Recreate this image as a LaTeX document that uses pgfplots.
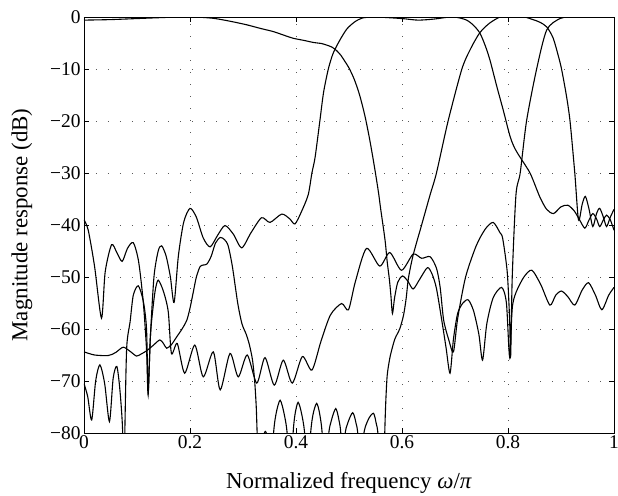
\documentclass[border=0pt]{standalone}
\usepackage{pgfplots}
\pgfplotsset{compat=1.18}
\usepackage{fontspec}
\setmainfont{Liberation Serif}
\pgfplotsset{c/.style={black, solid, mark=none, line width=1.1bp, smooth, tension=0.45}}
\begin{document}
\begin{tikzpicture}
\begin{axis}[
  width=530bp, height=416bp, scale only axis,
  xmin=0, xmax=1, ymin=-80, ymax=0,
  xtick={0,0.2,0.4,0.6,0.8,1},
  xticklabels={0,0.2,0.4,0.6,0.8,1},
  ytick={-80,-70,-60,-50,-40,-30,-20,-10,0},
  yticklabels={−80,−70,−60,−50,−40,−30,−20,−10,0},
  tick align=inside, major tick length=5bp,
  xtick pos=both, ytick pos=both,
  tick style={black, line width=0.6bp},
  axis line style={black, line width=0.8bp},
  grid=major,
  major grid style={black!65, line width=0.8bp, dash pattern=on 0.8bp off 11.2bp},
  tick label style={font=\fontsize{19.5}{22}\selectfont},
  xticklabel style={yshift=1bp},
  xlabel={Normalized frequency \textit{ω}/\textit{π}},
  ylabel={Magnitude response (dB)},
  every axis x label/.style={at={(axis description cs:0.5,-0.12)}, anchor=center, font=\fontsize{23}{26}\selectfont},
  every axis y label/.style={at={(axis description cs:-0.117,0.5)}, rotate=90, anchor=center, font=\fontsize{23}{26}\selectfont},
]
% LP
\addplot[c] coordinates {(0,-0.6) (0.05,-0.5) (0.1,-0.3) (0.15,-0.1) (0.18,0) (0.21,0) (0.244,-0.25) (0.275,-0.8) (0.307,-1.5) (0.333,-2.2) (0.357,-2.8) (0.38,-3.6) (0.395,-4.1) (0.415,-4.5) (0.433,-4.9) (0.448,-5.1) (0.458,-5.4) (0.468,-5.8) (0.477,-6.5) (0.485,-7.4) (0.492,-8.5) (0.5,-9.8) (0.51,-12) (0.52,-15) (0.53,-19) (0.538,-23) (0.545,-27) (0.551,-30.7) (0.556,-34) (0.56,-37.1) (0.568,-42.9) (0.572,-47) (0.576,-50.3) (0.579,-53.5) (0.582,-57) (0.586,-54) (0.592,-51) (0.601,-49.8) (0.611,-50.8) (0.621,-52.3) (0.633,-50.5) (0.648,-48.2) (0.657,-49.5) (0.665,-52.2) (0.675,-58.3) (0.683,-63.5) (0.6906,-68.5) (0.697,-62) (0.705,-57) (0.715,-55) (0.725,-54.4) (0.735,-56.5) (0.745,-61) (0.752,-66) (0.76,-59) (0.772,-54) (0.788,-52) (0.797,-55) (0.803,-65.3) (0.808,-56) (0.815,-53) (0.83,-50) (0.845,-48.7) (0.862,-51.5) (0.879,-55.4) (0.89,-53.5) (0.901,-52.7) (0.913,-53.8) (0.926,-55.4) (0.94,-52.5) (0.952,-51.1) (0.965,-53.5) (0.977,-56.3) (0.99,-53.5) (1,-52)};
% BP1
\addplot[c] coordinates {(0,-39) (0.008,-41) (0.02,-48) (0.033,-57.9) (0.04,-49) (0.052,-43.8) (0.062,-45.3) (0.072,-47) (0.082,-44.5) (0.093,-43.4) (0.103,-47) (0.112,-55) (0.118,-64) (0.121,-72.7) (0.125,-62) (0.132,-50) (0.14,-45) (0.1465,-44) (0.155,-46) (0.163,-50) (0.170,-54.9) (0.178,-46) (0.188,-39.5) (0.2,-36.8) (0.212,-38.5) (0.225,-42.5) (0.238,-44.2) (0.252,-42) (0.266,-40.1) (0.282,-41.8) (0.2975,-44.4) (0.315,-41.5) (0.335,-38.6) (0.351,-39.5) (0.373,-37.9) (0.388,-38.8) (0.398,-39.8) (0.41,-37.5) (0.423,-34.2) (0.43,-30) (0.436,-27) (0.445,-20) (0.452,-14.5) (0.461,-10) (0.47,-7) (0.483,-4.4) (0.496,-2.3) (0.51,-1) (0.525,-0.2) (0.55,0) (0.6,-0.3) (0.63,-0.6) (0.66,-0.4) (0.69,0) (0.705,-0.1) (0.722,-0.6) (0.735,-1.6) (0.747,-3.1) (0.757,-5.5) (0.766,-8.3) (0.779,-13.4) (0.791,-17.9) (0.804,-23) (0.813,-25.3) (0.823,-27) (0.842,-30.1) (0.86,-34.6) (0.873,-37) (0.886,-37.8) (0.9,-36.5) (0.913,-36.2) (0.925,-37.3) (0.935,-39) (0.945,-40.6) (0.953,-39) (0.96,-37.8) (0.967,-38.8) (0.973,-40.3) (0.98,-39) (0.986,-38.1) (0.993,-39) (1,-41)};
% BP2
\addplot[c] coordinates {(0,-64.4) (0.02,-65) (0.046,-65.1) (0.06,-64.5) (0.074,-63.5) (0.087,-64.3) (0.099,-65.2) (0.108,-64.8) (0.118,-64.2) (0.13,-63.2) (0.143,-62.1) (0.15,-62.8) (0.156,-63.7) (0.165,-63) (0.175,-61.5) (0.185,-60) (0.194,-58.3) (0.2,-56) (0.206,-53) (0.212,-50) (0.219,-48) (0.225,-47.7) (0.232,-47.5) (0.24,-46) (0.248,-43.5) (0.257,-42.4) (0.265,-42.8) (0.272,-44) (0.28,-48) (0.29,-55) (0.298,-59) (0.306,-61) (0.312,-63) (0.318,-66) (0.322,-70) (0.325,-75) (0.327,-81) (0.331,-92)};
\addplot[c] coordinates {(0.333,-92) (0.337,-82) (0.342,-79.7) (0.347,-82) (0.351,-95)};
\addplot[c] coordinates {(0.351,-95) (0.357,-81) (0.362,-76.5) (0.37,-73.7) (0.378,-76.5) (0.384,-81) (0.389,-95)};
\addplot[c] coordinates {(0.389,-95) (0.394,-81) (0.398,-76.5) (0.404,-74.1) (0.411,-76.5) (0.417,-81) (0.422,-95)};
\addplot[c] coordinates {(0.422,-95) (0.427,-81) (0.432,-76.5) (0.439,-74.3) (0.445,-76.5) (0.45,-81) (0.455,-95)};
\addplot[c] coordinates {(0.455,-95) (0.461,-81) (0.467,-77.5) (0.475,-75.3) (0.481,-77.5) (0.485,-81) (0.487,-95)};
\addplot[c] coordinates {(0.487,-95) (0.492,-81) (0.498,-78) (0.507,-76.1) (0.513,-78) (0.517,-81) (0.519,-95)};
\addplot[c] coordinates {(0.521,-95) (0.527,-81) (0.536,-77.5) (0.546,-76.2) (0.551,-78) (0.555,-81) (0.557,-95)};
\addplot[c] coordinates {(0.565,-95) (0.567,-82) (0.569,-75) (0.572,-69) (0.577,-65.6) (0.582,-63.5) (0.587,-61.8) (0.596,-59.9) (0.603,-57.3) (0.608,-54) (0.612,-50.3) (0.621,-45.8) (0.637,-40) (0.653,-34.2) (0.665,-30) (0.687,-20) (0.713,-10) (0.73,-6) (0.747,-3) (0.765,-1.2) (0.785,0) (0.8,0) (0.83,0) (0.847,-0.5) (0.86,-1) (0.873,-1.9) (0.885,-4) (0.895,-7.5) (0.901,-10) (0.91,-15) (0.917,-20) (0.926,-30) (0.933,-39) (0.94,-36) (0.946,-34.5) (0.953,-37) (0.96,-40.3) (0.967,-37.8) (0.973,-36.8) (0.98,-38.5) (0.986,-40.3) (0.993,-38.5) (1,-37)};
% HP
\addplot[c] coordinates {(0,-70.5) (0.007,-73) (0.0145,-77.5) (0.022,-70) (0.030,-66.9) (0.039,-70.5) (0.048,-77.8) (0.055,-69.5) (0.062,-67.2) (0.068,-72) (0.073,-80) (0.0745,-95) (0.077,-80) (0.0805,-63.7) (0.087,-58.6) (0.093,-53.5) (0.1025,-51.7) (0.112,-54.7) (0.118,-60) (0.121,-72) (0.125,-62) (0.128,-58) (0.134,-52.8) (0.14,-50.6) (0.15,-52.8) (0.159,-56.7) (0.165,-64.7) (0.176,-62.8) (0.19,-68.5) (0.209,-63.1) (0.225,-69.2) (0.244,-64.4) (0.257,-71.7) (0.2755,-64.7) (0.291,-69.2) (0.308,-65) (0.326,-70.4) (0.3415,-65.5) (0.359,-70.8) (0.376,-66) (0.393,-70.4) (0.412,-65.3) (0.43,-67.9) (0.447,-62.4) (0.465,-57.3) (0.486,-55.1) (0.499,-56.3) (0.512,-50.9) (0.533,-44.5) (0.558,-47.9) (0.577,-45.3) (0.599,-48.7) (0.621,-45.6) (0.637,-46.4) (0.653,-46.1) (0.665,-48.3) (0.672,-52) (0.6786,-58.3) (0.688,-62) (0.697,-64.4) (0.705,-58) (0.72,-50) (0.74,-44) (0.757,-40.8) (0.772,-39.5) (0.785,-41.5) (0.79,-42.6) (0.7985,-49) (0.803,-58) (0.805,-65.3) (0.808,-50) (0.815,-34.2) (0.823,-30) (0.835,-20) (0.854,-10) (0.873,-2.5) (0.898,-0.3) (0.92,0) (1,0)};
\end{axis}
\pgfresetboundingbox
\path[use as bounding box] (-84bp,-63bp) rectangle (534bp,433bp);
\end{tikzpicture}
\end{document}
